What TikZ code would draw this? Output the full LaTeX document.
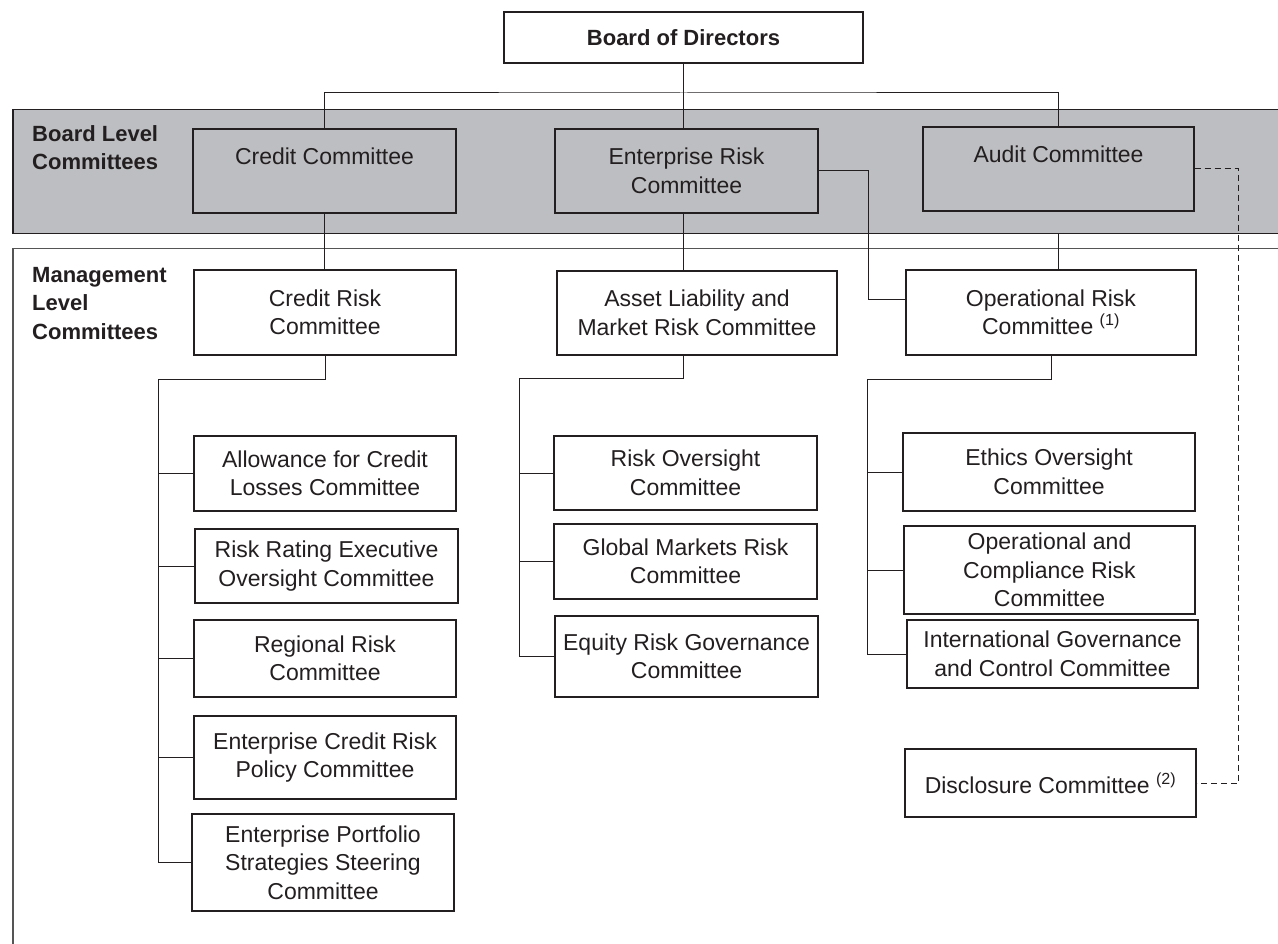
\documentclass[tikz,border=0pt]{standalone}
\usepackage{fontspec}
\setmainfont{Liberation Sans}
\usetikzlibrary{positioning}
\definecolor{bandgrey}{RGB}{189,190,193}
\definecolor{inkgrey}{RGB}{35,31,32}
\definecolor{panelgrey}{RGB}{85,85,85}
\tikzstyle{line} = [draw=inkgrey, line width=1pt]
\tikzstyle{box} = [draw=inkgrey, line width=1.2pt, fill=white, rectangle,
    align=center, inner sep=0pt, text=inkgrey,
    font=\fontsize{23}{28.5}\selectfont]
\tikzstyle{boardbox} = [box, fill=bandgrey, minimum width=263pt, minimum height=84pt]
\tikzstyle{mgmtbox} = [box, minimum width=262pt]
\tikzstyle{sidetext} = [align=left, inner sep=0pt, text=inkgrey,
    font=\fontsize{22}{28.5}\selectfont\bfseries]
\tikzstyle{bandrect} = [draw=inkgrey, line width=1.5pt, fill=bandgrey, inner sep=0pt]
\tikzstyle{panelrect} = [draw=panelgrey, line width=1.5pt, inner sep=0pt]
\begin{document}
\begin{tikzpicture}[x=1pt, y=-1pt]
     \useasboundingbox (0,0) rectangle (1278,944);
     \clip (0,0) rectangle (1278,944);

     % background bands
     \node [panelrect, anchor=north west, minimum width=1300pt, minimum height=760pt] (panel) at (12,248) {};
     \node [bandrect, anchor=north west, minimum width=1300pt, minimum height=124pt] (band) at (12,109) {};
     \node [sidetext, anchor=north west] (boardlevel) at (32,125) {Board Level\\Committees};
     \node [sidetext, anchor=north west] (mgmtlevel) at (32,267) {Management\\Level\\Committees};

     % board
     \node [box, font=\fontsize{22}{28}\selectfont\bfseries, minimum width=359pt, minimum height=51pt] (board) at (683.5,37.5) {Board of Directors};
     \coordinate (bus) at (683.5,93);

     % board level committees
     \node [boardbox, text depth=30.5pt] (credit) at (324.5,171) {Credit Committee};
     \node [boardbox] (erc) at (686.5,171) {Enterprise Risk\\Committee};
     \node [boardbox, minimum width=271pt, text depth=30.5pt] (audit) at (1058.5,169) {Audit Committee};

     % management level committees
     \node [mgmtbox, minimum height=85pt] (crisk) at (325,312.5) {Credit Risk\\Committee};
     \node [mgmtbox, minimum width=280pt, minimum height=84pt] (alm) at (697,313) {Asset Liability and\\Market Risk Committee};
     \node [mgmtbox, minimum width=290pt, minimum height=85pt] (orc) at (1051,312.5) {Operational Risk\\Committee \textsuperscript{(1)}};

     % credit branch
     \node [mgmtbox, minimum height=75pt] (allow) at (325,473.5) {Allowance for Credit\\Losses Committee};
     \node [mgmtbox, minimum width=263pt, minimum height=74pt] (rrating) at (326.5,566) {Risk Rating Executive\\Oversight Committee};
     \node [mgmtbox, minimum height=77pt] (regional) at (325,658.5) {Regional Risk\\Committee};
     \node [mgmtbox, minimum height=83pt] (ecrp) at (325,757.5) {Enterprise Credit Risk\\Policy Committee};
     \node [mgmtbox, minimum height=97pt] (epss) at (323,862.5) {Enterprise Portfolio\\Strategies Steering\\Committee};

     % market branch
     \node [mgmtbox, minimum width=263pt, minimum height=74pt] (rovers) at (685.5,473) {Risk Oversight\\Committee};
     \node [mgmtbox, minimum width=263pt, minimum height=75pt] (gmrc) at (685.5,561.5) {Global Markets Risk\\Committee};
     \node [mgmtbox, minimum width=263pt, minimum height=81pt] (ergc) at (686.5,656.5) {Equity Risk Governance\\Committee};

     % operational branch
     \node [mgmtbox, minimum width=292pt, minimum height=78pt] (ethics) at (1049,472) {Ethics Oversight\\Committee};
     \node [mgmtbox, minimum width=291pt, minimum height=88pt] (opcomp) at (1049.5,570) {Operational and\\Compliance Risk\\Committee};
     \node [mgmtbox, minimum width=291pt, minimum height=68pt] (igcc) at (1052.5,654) {International Governance\\and Control Committee};
     \node [mgmtbox, minimum width=291pt, minimum height=68pt] (disc) at (1050.5,783) {Disclosure Committee \textsuperscript{(2)}};

     % connectors
     \draw [line] (board.south) -- (board.south |- erc.north);
     \draw [line] (credit.north) |- (bus) -| (audit.north);
     \draw [line] (credit.south) -- (credit.south |- crisk.north);
     \draw [line] (erc.south -| board.south) -- (alm.north -| board.south);
     \draw [line] (audit.south |- band.south) -- (audit.south |- orc.north);
     \draw [line] (erc.east) -- ++(50,0) |- ([yshift=12.5pt]orc.west);
     \draw [line, dash pattern=on 6pt off 4pt] (audit.east) -- ++(44,0) |- (disc.east);

     \coordinate (cbranch) at (158,379);
     \draw [line] (crisk.south) |- (cbranch) |- (epss.west);
     \foreach \n in {allow, rrating, regional, ecrp}
          \draw [line] (cbranch |- \n.west) -- (\n.west);

     \coordinate (mbranch) at (519,378);
     \draw [line] (alm.south -| board.south) |- (mbranch) |- (ergc.west);
     \foreach \n in {rovers, gmrc}
          \draw [line] (mbranch |- \n.west) -- (\n.west);

     \coordinate (obranch) at (867,379);
     \draw [line] (orc.south) |- (obranch) |- (igcc.west);
     \foreach \n in {ethics, opcomp}
          \draw [line] (obranch |- \n.west) -- (\n.west);
\end{tikzpicture}
\end{document}
